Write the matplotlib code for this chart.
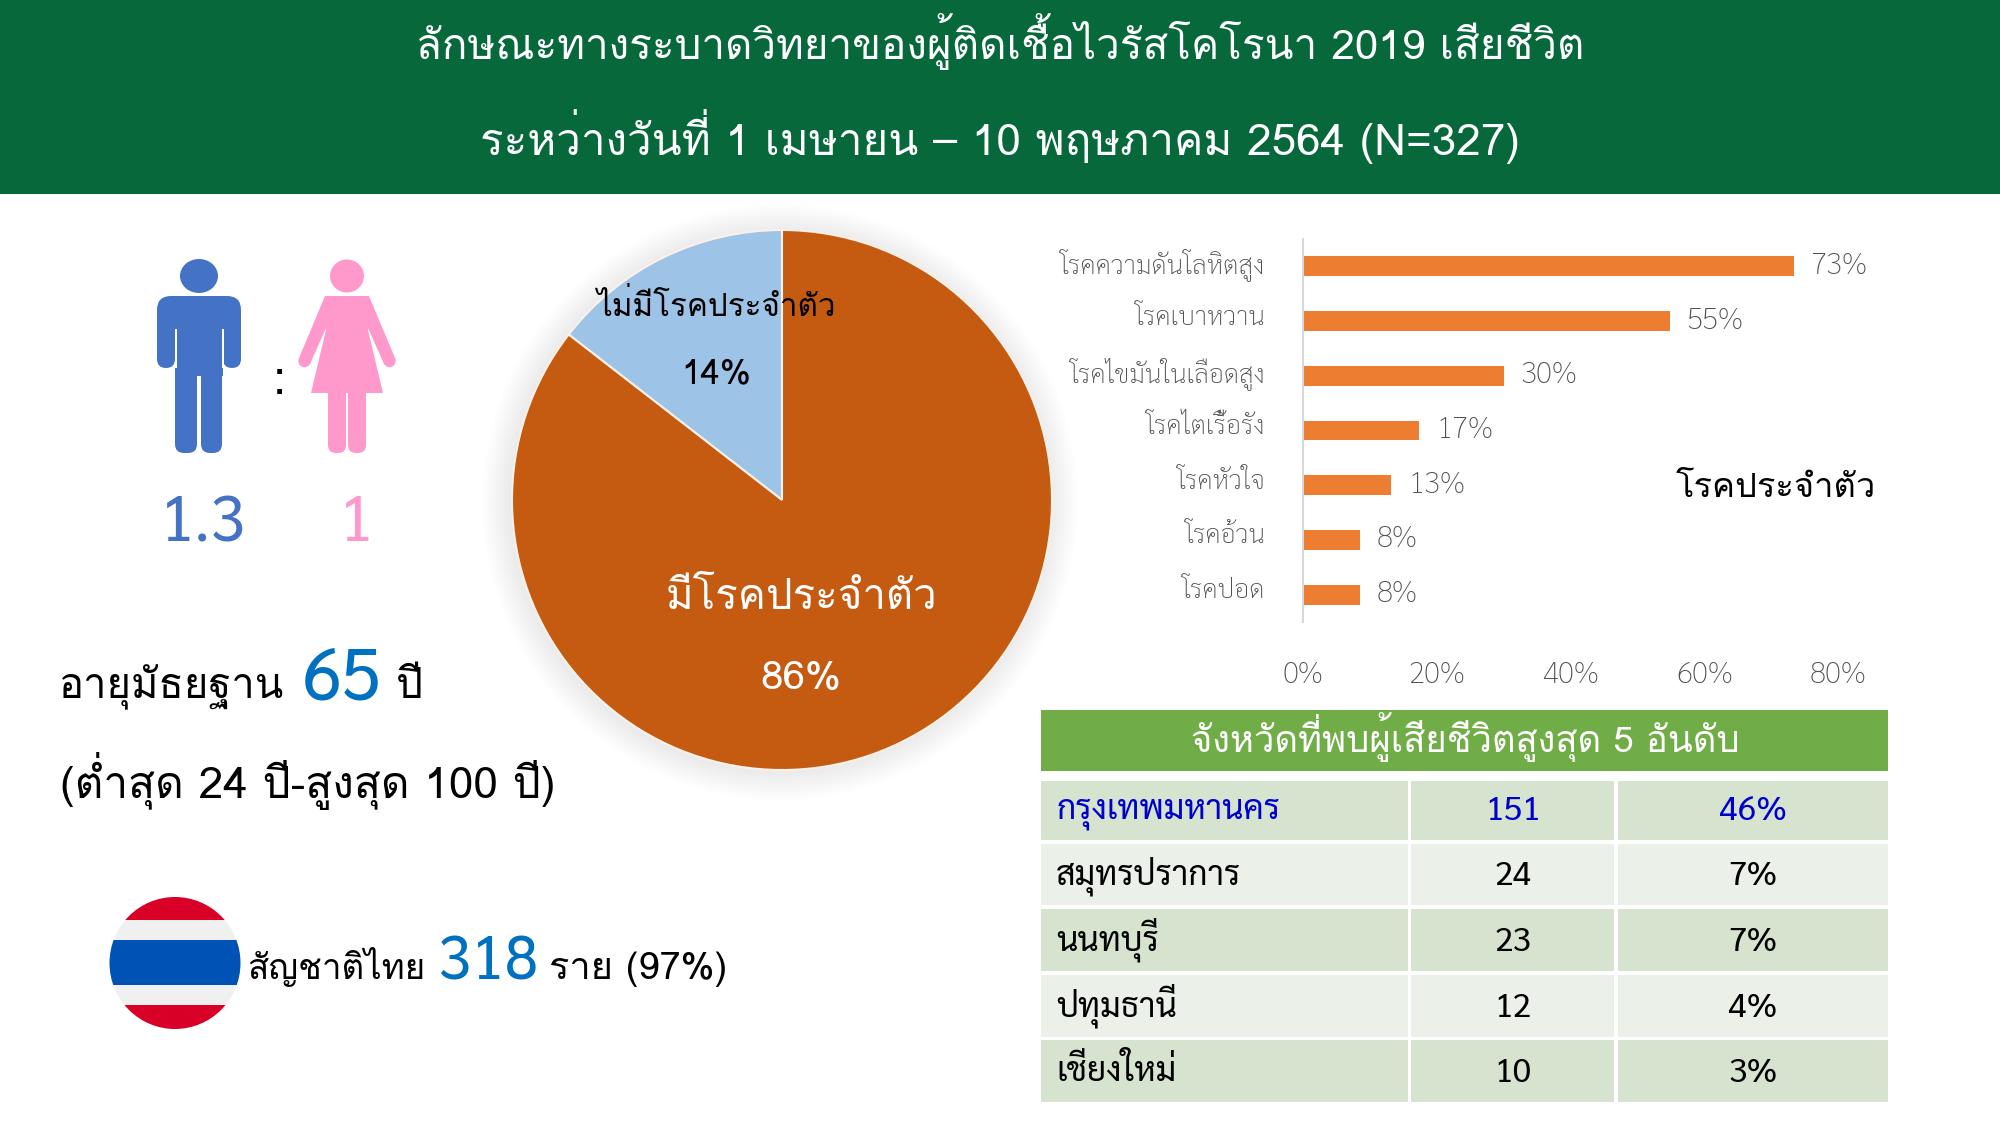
import matplotlib
matplotlib.use('Agg')
import matplotlib.pyplot as plt
from matplotlib.patches import Rectangle, Ellipse, Circle, FancyBboxPatch, Polygon
from matplotlib.transforms import ScaledTranslation

# ---------- data ----------
title_lines = ["ลักษณะทางระบาดวิทยาของผู้ติดเชื้อไวรัสโคโรนา 2019 เสียชีวิต",
               "ระหว่างวันที่ 1 เมษายน – 10 พฤษภาคม 2564 (N=327)"]
pie_labels = ["ไม่มีโรคประจำตัว", "มีโรคประจำตัว"]
pie_values = [14.5, 85.5]
pie_text = ["14%", "86%"]
disease_names = ["โรคความดันโลหิตสูง", "โรคเบาหวาน", "โรคไขมันในเลือดสูง", "โรคไตเรื้อรัง",
                 "โรคหัวใจ", "โรคอ้วน", "โรคปอด"]
disease_values = [73.4, 54.9, 30.0, 17.4, 13.2, 8.5, 8.5]
disease_text = ["73%", "55%", "30%", "17%", "13%", "8%", "8%"]
x_ticks = [0, 20, 40, 60, 80]
provinces = ["กรุงเทพมหานคร", "สมุทรปราการ", "นนทบุรี", "ปทุมธานี", "เชียงใหม่"]
province_counts = [151, 24, 23, 12, 10]
province_pct = ["46%", "7%", "7%", "4%", "3%"]
table_title = "จังหวัดที่พบผู้เสียชีวิตสูงสุด 5 อันดับ"

# ---------- styles ----------
LOMA = ['Loma', 'Noto Sans Thai', 'DejaVu Sans']
SARA = ['Sarabun', 'Noto Sans Thai', 'DejaVu Sans']
GREEN = '#07683B'
ORANGE = '#C55A11'
LBLUE = '#9DC3E6'
BAR = '#ED7D31'
GREY = '#505050'
BLUE = '#0070C0'
MAN = '#4472C4'
WOMAN = '#FF99CC'
W, H = 2000, 1125

fig = plt.figure(figsize=(W / 100, H / 100), dpi=100, facecolor='white')
bg = fig.add_axes([0, 0, 1, 1])
bg.set_xlim(0, W)
bg.set_ylim(H, 0)
bg.axis('off')
renderer = fig.canvas.get_renderer()


def fit(s, width, family, weight='normal'):
    t = fig.text(0, 0, s, family=family, fontsize=20, fontweight=weight)
    w = t.get_window_extent(renderer).width
    t.remove()
    return 20 * width / w


def T(x, y, s, width=None, size=None, family=LOMA, color='black', ha='left', weight='normal', ax=bg, z=10):
    if size is None:
        size = fit(s, width, family, weight)
    return ax.text(x, y, s, fontsize=size, family=family, color=color, ha=ha, va='baseline',
                   fontweight=weight, zorder=z)


# ---------- header ----------
bg.add_patch(Rectangle((0, 0), W, 194, fc=GREEN, ec='none'))
T(1000, 59, title_lines[0], width=1168, color='white', ha='center')
T(1000, 155, title_lines[1], width=1040, color='white', ha='center')

# ---------- figures ----------
def rbox(x0, y0, x1, y1, r, c):
    bg.add_patch(FancyBboxPatch((x0 + r, y0 + r), x1 - x0 - 2 * r, y1 - y0 - 2 * r,
                                boxstyle=f'round,pad={r},rounding_size={r}', fc=c, ec='none'))


bg.add_patch(Ellipse((199, 276), 38, 34, fc=MAN, ec='none'))
rbox(157, 296, 241, 345, 14, MAN)
rbox(157, 310, 175, 368, 9, MAN)
rbox(223, 310, 241, 368, 9, MAN)
bg.add_patch(Rectangle((175, 310), 48, 66, fc=MAN, ec='none'))
rbox(175, 340, 197, 453, 9, MAN)
rbox(201, 340, 222, 453, 9, MAN)
bg.add_patch(Rectangle((175, 329), 1.5, 39, fc='white', ec='none'))
bg.add_patch(Rectangle((222, 329), 1.5, 39, fc='white', ec='none'))

bg.add_patch(Ellipse((347, 276), 34, 33, fc=WOMAN, ec='none'))
bg.add_patch(Polygon([(326, 296), (368, 296), (368, 330), (383, 393), (311, 393), (326, 330)], fc=WOMAN, ec='none'))
bg.add_patch(Polygon([(325, 296), (299, 358), (310, 364), (326, 328), (330, 296)], fc=WOMAN, ec='none'))
bg.add_patch(Polygon([(369, 296), (395, 358), (384, 364), (368, 328), (364, 296)], fc=WOMAN, ec='none'))
bg.add_patch(Circle((304.5, 361), 6.2, fc=WOMAN, ec='none'))
bg.add_patch(Circle((389.5, 361), 6.2, fc=WOMAN, ec='none'))
rbox(328, 380, 346, 453, 8, WOMAN)
rbox(348, 380, 366, 453, 8, WOMAN)

T(279, 394, ":", size=34, ha='center', family=LOMA)
size13 = fit("1.3", 86, SARA)
T(203, 541, "1.3", size=size13, color=MAN, ha='center', family=SARA)
T(356, 541, "1", size=size13, color=WOMAN, ha='center', family=SARA)

# ---------- left text ----------
T(59, 698, "อายุมัธยฐาน", width=225)
T(302, 700, "65", width=80, color=BLUE, family=SARA)
T(396, 698, "ปี", width=27)
T(60, 798, "(ต่ำสุด 24 ปี-สูงสุด 100 ปี)", width=495)

# ---------- flag ----------
clip = Ellipse((175, 963), 131, 132, fc='none', ec='none')
bg.add_patch(clip)
for y0, y1, c in [(897, 920, '#D80027'), (920, 940, '#F0F0F0'), (940, 985, '#0052B4'),
                  (985, 1005, '#F0F0F0'), (1005, 1030, '#D80027')]:
    r = Rectangle((105, y0), 140, y1 - y0, fc=c, ec='none')
    bg.add_patch(r)
    r.set_clip_path(clip)
T(248, 979, "สัญชาติไทย", width=178)
T(438, 980, "318", width=100, color=BLUE, family=SARA)
T(549, 979, "ราย (97%)", width=178)

# ---------- pie ----------
for i in range(20):
    bg.add_patch(Circle((780, 502), 298 - i * 1.4, fc='black', ec='none', alpha=0.0045, zorder=1))
R = 270
pie_ax = fig.add_axes([(782 - R) / W, 1 - (500 + R) / H, 2 * R / W, 2 * R / H], zorder=2)
pie_ax.pie(pie_values, colors=[LBLUE, ORANGE], startangle=90, counterclock=True, radius=1,
           wedgeprops=dict(edgecolor='#FBF1E8', linewidth=1.5))
pie_ax.set_xlim(-1, 1)
pie_ax.set_ylim(-1, 1)
pie_ax.patch.set_alpha(0)
fg = fig.add_axes([0, 0, 1, 1], zorder=5)
fg.set_xlim(0, W)
fg.set_ylim(H, 0)
fg.axis('off')
T(716, 316, pie_labels[0], width=240, ha='center', ax=fg)
T(716, 383, pie_text[0], width=70, ha='center', ax=fg)
T(801, 609, pie_labels[1], width=272, color='white', ha='center', ax=fg)
T(801, 689, pie_text[1], width=81, color='white', ha='center', ax=fg)

# ---------- bar chart ----------
ax = fig.add_axes([1303 / W, 1 - 622 / H, 535 / W, 383 / H], zorder=3)
ax.patch.set_alpha(0)
ypos = list(range(len(disease_names)))
bars = ax.barh(ypos, disease_values, height=0.365, color=BAR)
ax.set_xlim(0, 80)
ax.set_ylim(6.5, -0.5)
for s in ['top', 'right', 'bottom']:
    ax.spines[s].set_visible(False)
ax.spines['left'].set_color('#D9D9D9')
ax.spines['left'].set_linewidth(1.5)
size_num = fit("73%", 57, SARA, 'light')
size_cat = fit(disease_names[0], 205, SARA, 'light')
ax.bar_label(bars, labels=disease_text, padding=12, fontsize=size_num, color=GREY, family=SARA, fontweight='light')
ax.set_xticks(x_ticks)
ax.set_xticklabels([f"{v}%" for v in x_ticks], fontsize=size_num, color=GREY, family=SARA, fontweight='light')
ax.tick_params(axis='x', length=0, pad=28)
ax.set_yticks(ypos)
ax.set_yticklabels(disease_names, fontsize=size_cat, color=GREY, family=SARA, fontweight='light')
ax.tick_params(axis='y', length=0, pad=27)
lift = ScaledTranslation(0, 6 / 100, fig.dpi_scale_trans)
for lab in ax.get_yticklabels():
    lab.set_transform(lab.get_transform() + lift)
T(1676, 497, "โรคประจำตัว", width=200)

# ---------- table ----------
bg.add_patch(Rectangle((1041, 710), 847, 61, fc='#70AD47', ec='none'))
T(1465, 752, table_title, width=549, color='white', ha='center', family=LOMA)
row_y = [(781, 840), (844, 905), (909, 971), (975, 1037), (1040, 1102)]
col_x = [(1041, 1408), (1411, 1614), (1618, 1888)]
base_y = [820, 885, 951, 1017, 1082]
size_name = fit(provinces[0], 224, SARA)
size_val = fit("151", 56, SARA)
for i, (name, cnt, pct) in enumerate(zip(provinces, province_counts, province_pct)):
    fill = '#D5E3CF' if i % 2 == 0 else '#EBF1E9'
    col = '#0000CC' if i == 0 else 'black'
    for x0, x1 in col_x:
        bg.add_patch(Rectangle((x0, row_y[i][0]), x1 - x0, row_y[i][1] - row_y[i][0], fc=fill, ec='none'))
    T(1056, base_y[i] - 1, name, size=size_name, family=SARA, color=col)
    T(1513, base_y[i], str(cnt), size=size_val, family=SARA, color=col, ha='center')
    T(1753, base_y[i], pct, size=size_val, family=SARA, color=col, ha='center')

fig.savefig('out.png', dpi=100)
